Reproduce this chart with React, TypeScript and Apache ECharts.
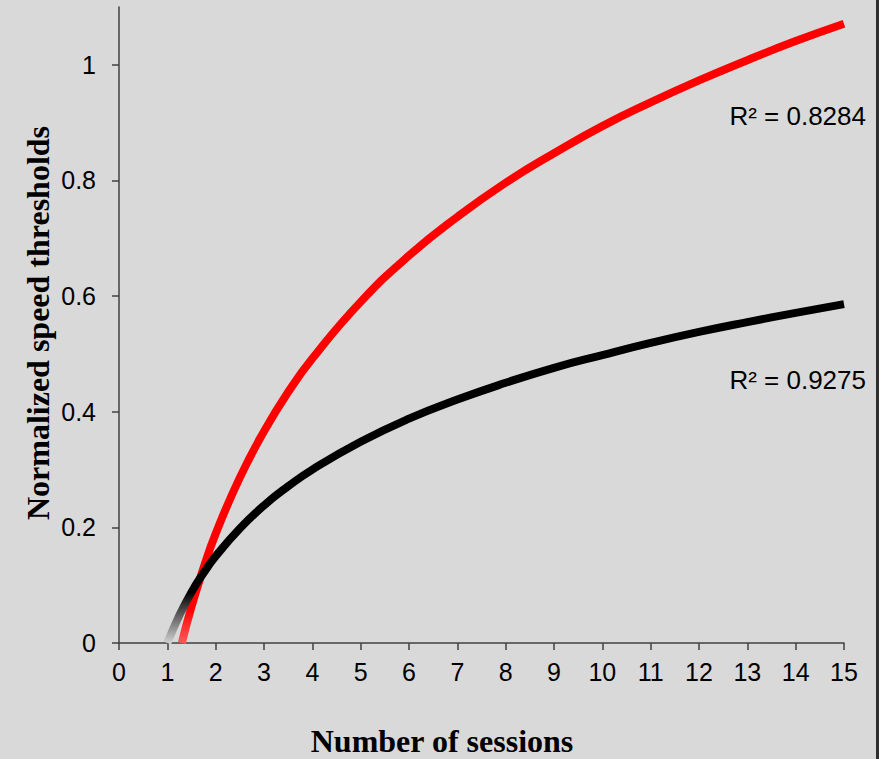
import React, { useEffect, useRef } from "react";
import * as echarts from "echarts";

// Values
const yTickValues = [0, 0.2, 0.4, 0.6, 0.8, 1];
const blackX = [1, 1.25, 1.5, 1.75, 2, 2.5, 3, 3.5, 4, 5, 6, 7, 8, 9, 10, 11, 12, 13, 14, 15];
const blackY = [0.0, 0.048, 0.088, 0.121, 0.15, 0.198, 0.238, 0.271, 0.3, 0.348, 0.388, 0.421, 0.45, 0.476, 0.498, 0.519, 0.538, 0.555, 0.571, 0.586];
const redX = [1.3, 1.5, 1.75, 2, 2.5, 3, 3.5, 4, 5, 6, 7, 8, 9, 10, 11, 12, 13, 14, 15];
const redY = [0.0, 0.063, 0.13, 0.189, 0.286, 0.366, 0.434, 0.492, 0.59, 0.67, 0.737, 0.796, 0.847, 0.894, 0.935, 0.973, 1.008, 1.041, 1.071];
const r2Labels = ["R² = 0.8284", "R² = 0.9275"];
const xTitle = "Number of sessions";
const yTitle = "Normalized speed thresholds";

const SANS = "'Liberation Sans', Arial, sans-serif";
const SERIF = "'Liberation Serif', 'Times New Roman', serif";
const AXIS_COLOR = "#404040";

export default function App() {
  const ref = useRef<HTMLDivElement>(null);

  useEffect(() => {
    if (!ref.current) return;
    const chart = echarts.init(ref.current, null, { renderer: "svg" });
    const redData = redX.map((x, i) => [x, redY[i]]);
    const blackData = blackX.map((x, i) => [x, blackY[i]]);
    chart.setOption({
      animation: false,
      backgroundColor: "#d9d9d9",
      grid: { left: 119, right: 35, top: 7, bottom: 116 },
      xAxis: {
        type: "value",
        min: 0,
        max: 15,
        interval: 1,
        splitLine: { show: false },
        axisLine: { show: true, onZero: false, lineStyle: { color: AXIS_COLOR, width: 1.5 } },
        axisTick: { show: true, length: 7, lineStyle: { color: AXIS_COLOR, width: 1.5 } },
        axisLabel: { color: "#000", fontSize: 25, fontFamily: SANS, margin: 16 },
      },
      yAxis: {
        type: "value",
        min: 0,
        max: 1.1,
        splitLine: { show: false },
        axisLine: { show: true, lineStyle: { color: AXIS_COLOR, width: 1.5 } },
        axisTick: { show: true, length: 7, customValues: yTickValues, lineStyle: { color: AXIS_COLOR, width: 1.5 } },
        axisLabel: {
          color: "#000",
          fontSize: 25,
          fontFamily: SANS,
          margin: 23,
          customValues: yTickValues,
          formatter: (v: number) => String(+v.toFixed(1)),
        },
      },
      series: [
        {
          type: "line",
          data: redData,
          smooth: 0.5,
          showSymbol: false,
          silent: true,
          lineStyle: {
            width: 8,
            color: new echarts.graphic.LinearGradient(0, 0, 0, 1, [
              { offset: 0, color: "#ff0000" },
              { offset: 0.945, color: "#ff0000" },
              { offset: 1, color: "#ff5a5a" },
            ]),
          },
        },
        {
          type: "line",
          data: blackData,
          smooth: 0.5,
          showSymbol: false,
          silent: true,
          lineStyle: {
            width: 8,
            color: new echarts.graphic.LinearGradient(0, 0, 0, 1, [
              { offset: 0, color: "#000000" },
              { offset: 0.85, color: "#000000" },
              { offset: 1, color: "#d0d0d0" },
            ]),
          },
        },
      ],
      graphic: [
        {
          type: "text",
          right: 13,
          top: 103,
          style: { text: r2Labels[0], fill: "#000", font: `26px ${SANS}` },
        },
        {
          type: "text",
          right: 13,
          top: 367,
          style: { text: r2Labels[1], fill: "#000", font: `26px ${SANS}` },
        },
        {
          type: "text",
          x: 442,
          y: 741,
          style: {
            text: xTitle,
            fill: "#000",
            font: `bold 32px ${SERIF}`,
            textAlign: "center",
            textVerticalAlign: "middle",
          },
        },
        {
          type: "text",
          x: 38,
          y: 323,
          rotation: Math.PI / 2,
          style: {
            text: yTitle,
            fill: "#000",
            font: `bold 32px ${SERIF}`,
            textAlign: "center",
            textVerticalAlign: "middle",
          },
        },
      ],
    });
    return () => chart.dispose();
  }, []);

  return (
    <div style={{ position: "fixed", left: 0, top: 0, width: 879, height: 759, background: "#d9d9d9" }}>
      <div ref={ref} style={{ position: "absolute", left: 0, top: 0, width: 879, height: 759 }} />
      <div style={{ position: "absolute", right: 0, top: 0, width: 3, height: 759, background: "#2e2e2e" }} />
    </div>
  );
}
